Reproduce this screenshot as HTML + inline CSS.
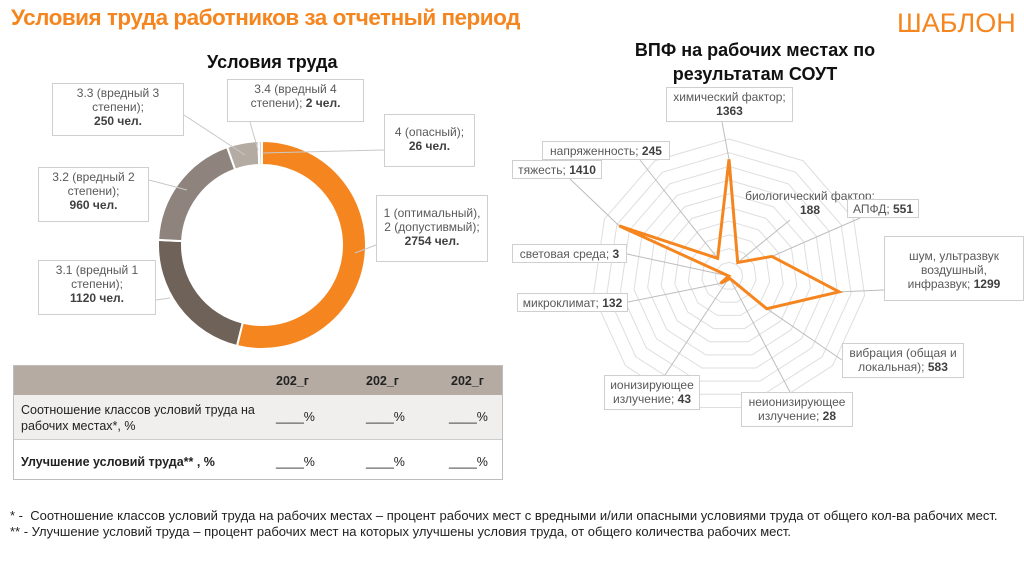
<!DOCTYPE html>
<html><head><meta charset="utf-8">
<style>
body{margin:0;width:1024px;height:574px;background:#fff;overflow:hidden;font-family:"Liberation Sans",sans-serif;position:relative}
.lbl{position:absolute;background:#fff;border:1px solid #cfcfcf;font-size:12px;color:#595959;text-align:center;line-height:14px;padding:2px 4px;box-sizing:border-box}
b{color:#404040}
</style></head><body>
<div style="position:absolute;left:11px;top:5px;font-size:22.5px;font-weight:bold;color:#f5861f;letter-spacing:-0.5px">Условия труда работников за отчетный период</div>
<div style="position:absolute;left:897px;top:8px;font-size:27px;color:#f5861f">ШАБЛОН</div>
<div style="position:absolute;left:207px;top:52px;font-size:18px;font-weight:bold;color:#111">Условия труда</div>
<div style="position:absolute;left:600px;top:38px;width:310px;text-align:center;font-size:18px;font-weight:bold;color:#111;line-height:24px">ВПФ на рабочих местах по<br>результатам СОУТ</div>

<svg id="chart" width="1024" height="574" style="position:absolute;left:0;top:0">
<g id="donut"></g><g id="radar"></g>
</svg>

<div class="lbl" style="left:52px;top:83px;width:132px;height:53px">3.3 (вредный 3<br>степени);<br><b>250 чел.</b></div>
<div class="lbl" style="left:227px;top:79px;width:137px;height:43px">3.4 (вредный 4<br>степени); <b>2 чел.</b></div>
<div class="lbl" style="left:384px;top:114px;width:91px;height:53px;padding-top:10px">4 (опасный);<br><b>26 чел.</b></div>
<div class="lbl" style="left:38px;top:167px;width:111px;height:55px">3.2 (вредный 2<br>степени);<br><b>960 чел.</b></div>
<div class="lbl" style="left:376px;top:195px;width:112px;height:67px;padding-top:10px">1 (оптимальный),<br>2 (допустивмый);<br><b>2754 чел.</b></div>
<div class="lbl" style="left:38px;top:260px;width:118px;height:55px">3.1 (вредный 1<br>степени);<br><b>1120 чел.</b></div>

<div class="lbl" style="left:666px;top:87px;width:127px;height:35px">химический фактор;<br><b>1363</b></div>
<div class="lbl" style="left:542px;top:141px;width:128px;height:19px">напряженность; <b>245</b></div>
<div class="lbl" style="left:512px;top:160px;width:90px;height:19px">тяжесть; <b>1410</b></div>
<div class="lbl" style="left:737px;top:186px;width:146px;height:34px;border-color:transparent;background:transparent">биологический фактор;<br><b>188</b></div>
<div class="lbl" style="left:847px;top:199px;width:72px;height:19px">АПФД; <b>551</b></div>
<div class="lbl" style="left:884px;top:236px;width:140px;height:65px;padding-top:12px">шум, ультразвук<br>воздушный,<br>инфразвук; <b>1299</b></div>
<div class="lbl" style="left:512px;top:244px;width:115px;height:19px">световая среда; <b>3</b></div>
<div class="lbl" style="left:517px;top:293px;width:111px;height:19px">микроклимат; <b>132</b></div>
<div class="lbl" style="left:842px;top:343px;width:122px;height:35px">вибрация (общая и<br>локальная); <b>583</b></div>
<div class="lbl" style="left:604px;top:375px;width:96px;height:35px">ионизирующее<br>излучение; <b>43</b></div>
<div class="lbl" style="left:741px;top:392px;width:112px;height:35px">неионизирующее<br>излучение; <b>28</b></div>

<div style="position:absolute;left:13px;top:365px;width:490px;height:115px;border:1px solid #bdbdbd;box-sizing:border-box;font-size:12.5px;color:#222">
 <div style="position:absolute;left:0;top:0;width:488px;height:29px;background:#b5aba2;font-weight:bold">
  <span style="position:absolute;left:262px;top:8px">202_г</span><span style="position:absolute;left:352px;top:8px">202_г</span><span style="position:absolute;left:437px;top:8px">202_г</span></div>
 <div style="position:absolute;left:0;top:29px;width:488px;height:44px;background:#f0efed;border-bottom:1px solid #ccc">
  <span style="position:absolute;left:7px;top:7px;line-height:16px">Соотношение классов условий труда на<br>рабочих местах*, %</span>
  <span style="position:absolute;left:262px;top:15px">____%</span><span style="position:absolute;left:352px;top:15px">____%</span><span style="position:absolute;left:435px;top:15px">____%</span></div>
 <div style="position:absolute;left:0;top:74px;width:488px;height:40px">
  <span style="position:absolute;left:7px;top:15px;font-weight:bold">Улучшение условий труда** , %</span>
  <span style="position:absolute;left:262px;top:15px">____%</span><span style="position:absolute;left:352px;top:15px">____%</span><span style="position:absolute;left:435px;top:15px">____%</span></div>
</div>
<div style="position:absolute;left:10px;top:508px;font-size:13px;color:#222;line-height:16px">* -&nbsp; Соотношение классов условий труда на рабочих местах – процент рабочих мест с вредными и/или опасными условиями труда от общего кол-ва рабочих мест.<br>** - Улучшение условий труда – процент рабочих мест на которых улучшены условия труда, от общего количества рабочих мест.</div>

<script>
const donutCats = ["1,2","3.1","3.2","3.3","3.4","4"];
const donutVals = [2754,1120,960,250,2,26];
const donutColors = ["#f5861f","#6e6259","#8e847d","#b4aba3","#cfc9c4","#d9d4d0"];
const radarCats = ["химический","биологический","АПФД","шум","вибрация","неионизирующее","ионизирующее","микроклимат","световая","тяжесть","напряженность"];
const radarVals = [1363,188,551,1299,583,28,43,132,3,1410,245];
const radarMax = 1600;
const radarRings = [160,320,480,640,800,960,1120,1280,1440,1600];

const NS="http://www.w3.org/2000/svg";
function mk(tag,attrs,parent){const e=document.createElementNS(NS,tag);for(const k in attrs)e.setAttribute(k,attrs[k]);parent.appendChild(e);return e;}

const dg=document.getElementById('donut');
const cx=262,cy=245,R=104,r=80;
const total=donutVals.reduce((a,b)=>a+b,0);
let a0=0;
function pt(rad,ang){return [cx+rad*Math.sin(ang),cy-rad*Math.cos(ang)];}
donutVals.forEach((v,i)=>{
  const a1=a0+v/total*2*Math.PI;
  const p1=pt(R,a0),p2=pt(R,a1),p3=pt(r,a1),p4=pt(r,a0);
  const lg=(a1-a0)>Math.PI?1:0;
  const p=mk('path',{d:`M${p1}A${R},${R} 0 ${lg} 1 ${p2}L${p3}A${r},${r} 0 ${lg} 0 ${p4}Z`,fill:donutColors[i],stroke:'#fff','stroke-width':2},dg);
  
  
  a0=a1;
});
[[[184,115],[245,155]],[[250,122],[258,150]],[[384,150],[262,153]],[[149,180],[187,190]],[[376,245],[355,253]],[[156,300],[170,298]]].forEach(l=>{
  const e=mk('line',{x1:l[0][0],y1:l[0][1],x2:l[1][0],y2:l[1][1],stroke:'#c8c8c8'},dg);
  
  
});

const rg=document.getElementById('radar');
const rx=729,ry=276,RR=137;
const n=radarCats.length;
function rp(val,i){const a=i*2*Math.PI/n;const d=val/radarMax*RR;return [rx+d*Math.sin(a),ry-d*Math.cos(a)];}
radarRings.forEach(v=>{
  const pts=radarCats.map((c,i)=>rp(v,i).join(',')).join(' ');
  const e=mk('polygon',{points:pts,fill:'none',stroke:'#dedede','stroke-width':1},rg);
  
  
});
const lead=[[[722,122],rp(radarVals[0],0)],[[640,160],rp(radarVals[10],10)],[[570,179],rp(radarVals[9],9)],[[790,220],rp(radarVals[1],1)],[[860,218],rp(radarVals[2],2)],[[884,290],rp(radarVals[3],3)],[[627,254],rp(radarVals[8],8)],[[628,302],rp(radarVals[7],7)],[[842,360],rp(radarVals[4],4)],[[665,375],rp(radarVals[6],6)],[[790,392],rp(radarVals[5],5)]];
lead.forEach(l=>{
  const e=mk('line',{x1:l[0][0],y1:l[0][1],x2:l[1][0],y2:l[1][1],stroke:'#bdbdbd'},rg);
  
  
});
const sp=mk('polygon',{points:radarVals.map((v,i)=>rp(v,i).join(',')).join(' '),fill:'none',stroke:'#f5861f','stroke-width':3,'stroke-linejoin':'miter'},rg);


</script>
</body></html>
